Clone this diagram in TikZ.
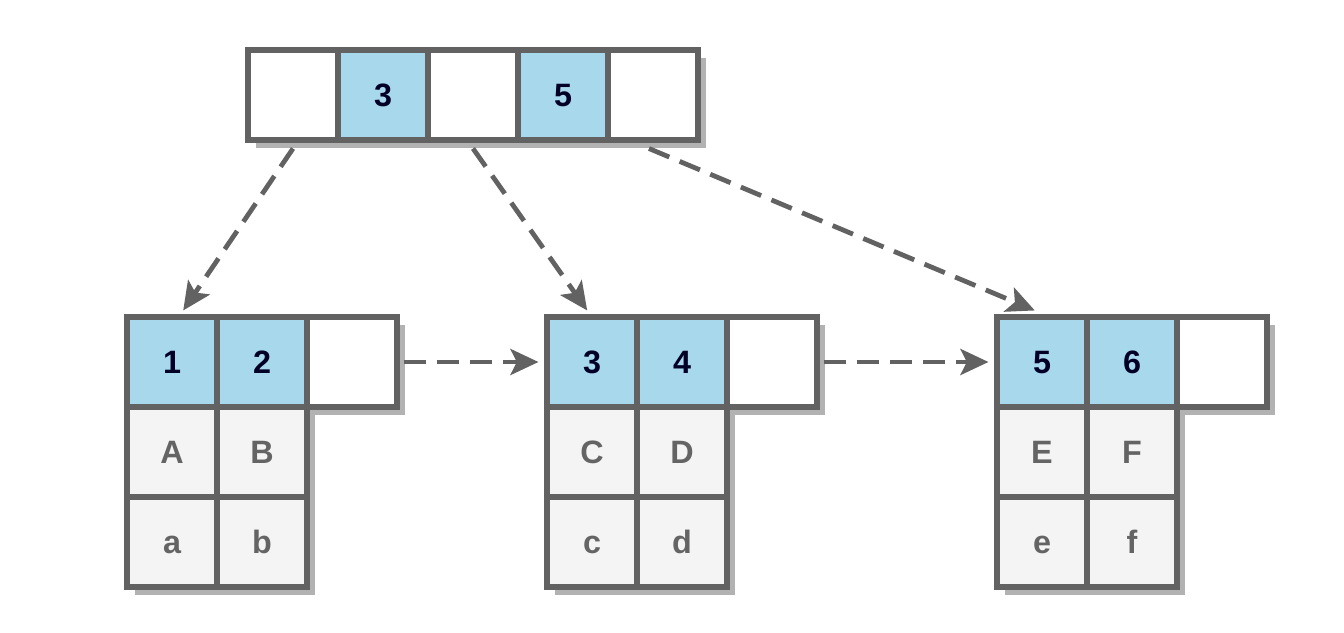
\documentclass[tikz,border=0pt]{standalone}
\usepackage{fontspec}
\setmainfont{Liberation Sans}
\usetikzlibrary{arrows.meta,shadows}

\definecolor{keyblue}{RGB}{168,216,236}
\definecolor{cellgray}{RGB}{244,244,244}
\definecolor{framegray}{RGB}{98,98,98}
\definecolor{letter}{RGB}{100,100,100}

\begin{document}
\begin{tikzpicture}[%
  every node/.style={minimum size=2.25cm,inner sep=0pt,draw=framegray,%
  line width=3.6pt,font=\fontsize{23}{27}\selectfont\bfseries,%
  text height=16.5pt,text depth=0pt,%
  drop shadow={shadow xshift=0.2cm,shadow yshift=-0.2cm,fill=black!30,opacity=1}},%
  keycell/.style={fill=keyblue,text=black!85!blue},%
  ptrcell/.style={fill=white},%
  datacell/.style={fill=cellgray,text=letter},%
  link/.style={draw=framegray,line width=3.4pt,dash pattern=on 0.55cm off 0.28cm,%
  -{Stealth[length=0.7cm,width=0.65cm,inset=0.16cm]}}]

  \useasboundingbox (0,0) rectangle (33.6,-15.825);

  % root
  \node [ptrcell] (r0) at (7.325,-2.375) {};
  \node [keycell] (r1) at (9.575,-2.375) {3};
  \node [ptrcell] (r2) at (11.825,-2.375) {};
  \node [keycell] (r3) at (14.075,-2.375) {5};
  \node [ptrcell] (r4) at (16.325,-2.375) {};

  % left leaf
  \node [keycell] (l1) at (4.3,-9.05) {1};
  \node [keycell] (l2) at (6.55,-9.05) {2};
  \node [ptrcell] (l3) at (8.8,-9.05) {};
  \node [datacell] (lA) at (4.3,-11.3) {A};
  \node [datacell] (lB) at (6.55,-11.3) {B};
  \node [datacell] (la) at (4.3,-13.55) {a};
  \node [datacell] (lb) at (6.55,-13.55) {b};

  % middle leaf
  \node [keycell] (m1) at (14.8,-9.05) {3};
  \node [keycell] (m2) at (17.05,-9.05) {4};
  \node [ptrcell] (m3) at (19.3,-9.05) {};
  \node [datacell] (mC) at (14.8,-11.3) {C};
  \node [datacell] (mD) at (17.05,-11.3) {D};
  \node [datacell] (mc) at (14.8,-13.55) {c};
  \node [datacell] (md) at (17.05,-13.55) {d};

  % right leaf
  \node [keycell] (n1) at (26.05,-9.05) {5};
  \node [keycell] (n2) at (28.3,-9.05) {6};
  \node [ptrcell] (n3) at (30.55,-9.05) {};
  \node [datacell] (nE) at (26.05,-11.3) {E};
  \node [datacell] (nF) at (28.3,-11.3) {F};
  \node [datacell] (ne) at (26.05,-13.55) {e};
  \node [datacell] (nf) at (28.3,-13.55) {f};

  \draw [link] ([yshift=-0.15cm]r0.south) -- ([xshift=0.28cm,yshift=0.1cm]l1.north);
  \draw [link] ([yshift=-0.15cm]r2.south) -- ([xshift=-0.12cm,yshift=0.1cm]m1.north);
  \draw [link] ([xshift=-0.1cm,yshift=-0.15cm]r4.south) -- ([xshift=-0.18cm,yshift=0.1cm]n1.north);
  \draw [link] ([xshift=0.1cm]l3.east) -- ([xshift=-0.15cm]m1.west);
  \draw [link] ([xshift=0.1cm]m3.east) -- ([xshift=-0.15cm]n1.west);
\end{tikzpicture}
\end{document}
